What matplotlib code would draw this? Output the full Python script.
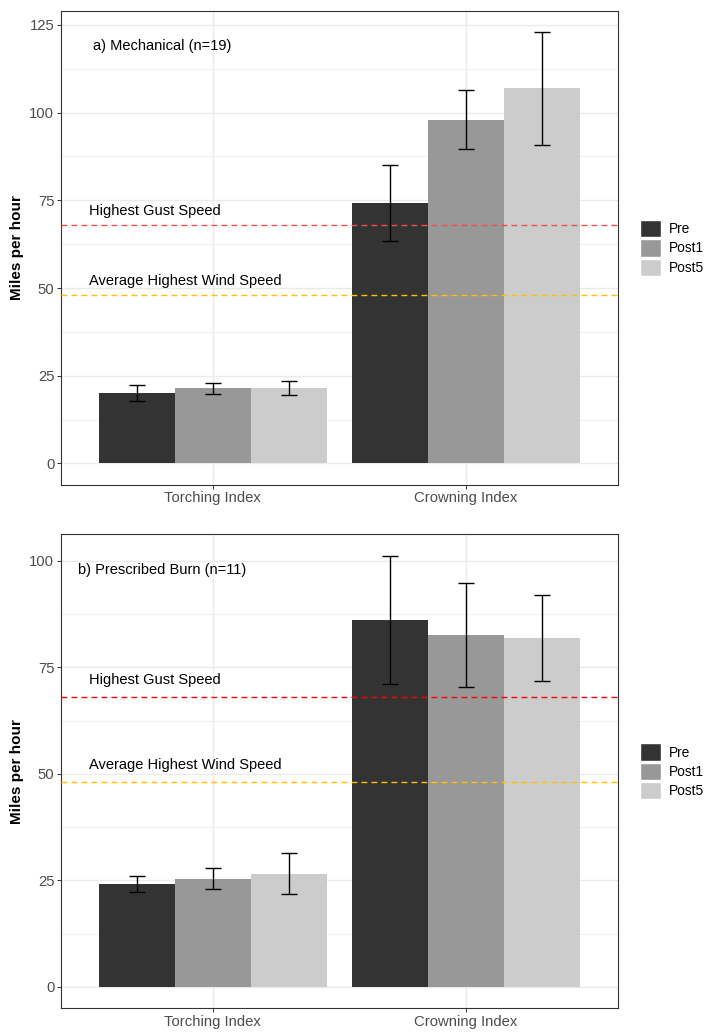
import numpy as np
import matplotlib
matplotlib.use("Agg")
import matplotlib.pyplot as plt
from matplotlib.patches import Patch

plt.rcParams['font.family'] = ['Liberation Sans', 'DejaVu Sans']

# data
indices = ['Torching Index', 'Crowning Index']
periods = ['Pre', 'Post1', 'Post5']
fills = ['#333333', '#989898', '#CCCCCC']

mech_mean = {'Pre': [20.1, 74.2], 'Post1': [21.4, 98.0], 'Post5': [21.5, 106.9]}
mech_se = {'Pre': [2.2, 10.8], 'Post1': [1.6, 8.4], 'Post5': [2.1, 16.0]}

burn_mean = {'Pre': [24.2, 86.2], 'Post1': [25.4, 82.6], 'Post5': [26.5, 81.9]}
burn_se = {'Pre': [1.9, 15.0], 'Post1': [2.5, 12.3], 'Post5': [4.8, 10.1]}

gust_speed = 68
avg_wind_speed = 48

panel_titles = ['a) Mechanical (n=19)', 'b) Prescribed Burn (n=11)']
gust_colors = ['#F44B4B', '#FF0000']
wind_color = '#FFC000'

TXT = 10.56   # annotation / axis title size
TICK = 10.7   # tick labels
LEG = 9.9     # legend labels


def draw_panel(ax, means, ses, title, gust_col, yticks):
    x = np.arange(1, len(indices) + 1)
    w = 0.9 / len(periods)
    for i, p in enumerate(periods):
        xs = x + (i - 1) * w
        ax.bar(xs, means[p], width=w, color=fills[i], edgecolor='none', zorder=2)
        ax.errorbar(xs, means[p], yerr=ses[p], fmt='none', ecolor='black',
                    elinewidth=1.0, capsize=6, capthick=1.0, zorder=4)

    ax.axhline(gust_speed, color=gust_col, lw=1.0, dashes=(4.2, 3.0), zorder=3)
    ax.axhline(avg_wind_speed, color=wind_color, lw=1.0, dashes=(4.2, 3.0), zorder=3)

    ax.text(0.51, gust_speed + 4, 'Highest Gust Speed', ha='left', va='center',
            fontsize=TXT, color='black', zorder=5)
    ax.text(0.51, avg_wind_speed + 4, 'Average Highest Wind Speed', ha='left', va='center',
            fontsize=TXT, color='black', zorder=5)

    top = max((np.array(means[p]) + np.array(ses[p])).max() for p in periods)
    ax.text(0.8, top * 0.968, title, ha='center', va='center', fontsize=TXT, zorder=5)

    # ggplot-like expansion
    ymax = top * 1.05
    ax.set_xlim(0.4, 2.6)
    ax.set_ylim(-0.05 * top, ymax)
    ax.set_xticks(x)
    ax.set_xticklabels(indices)
    ax.set_yticks(yticks)
    minors = [v + 12.5 for v in yticks if v + 12.5 < ymax]
    ax.set_yticks(minors, minor=True)

    ax.grid(True, which='major', color='#EBEBEB', lw=0.95, zorder=0)
    ax.grid(True, which='minor', axis='y', color='#EBEBEB', lw=0.5, zorder=0)
    ax.set_axisbelow(True)
    ax.tick_params(which='major', length=2.64, width=0.7, color='#333333',
                   labelsize=TICK, labelcolor='#4D4D4D', pad=2)
    ax.tick_params(which='minor', length=0)
    for s in ax.spines.values():
        s.set_color('#333333')
        s.set_linewidth(0.8)


fig = plt.figure(figsize=(7.09, 10.32), dpi=100)
W, H = 709, 1032

ax1 = fig.add_axes([60.7 / W, 1 - 485 / H, 557 / W, (485 - 10.7) / H])
ax2 = fig.add_axes([60.7 / W, 1 - 1008.3 / H, 557 / W, (1008.3 - 534.3) / H])

draw_panel(ax1, mech_mean, mech_se, panel_titles[0], gust_colors[0], [0, 25, 50, 75, 100, 125])
draw_panel(ax2, burn_mean, burn_se, panel_titles[1], gust_colors[1], [0, 25, 50, 75, 100])

for ax, yc in [(ax1, 247.9), (ax2, 771.3)]:
    fig.text(17 / W, 1 - yc / H, 'Miles per hour', rotation=90, ha='center', va='center',
             fontsize=TXT + 0.4, fontweight='bold')
    handles = [Patch(facecolor=c, edgecolor='white', lw=1) for c in fills]
    fig.legend(handles, periods, loc='center left', bbox_to_anchor=(640 / W, 1 - yc / H),
               frameon=False, fontsize=LEG, handlelength=1.55, handleheight=1.55,
               handletextpad=0.58, labelspacing=0.15, borderpad=0, borderaxespad=0)

fig.savefig('out.png', dpi=100)
